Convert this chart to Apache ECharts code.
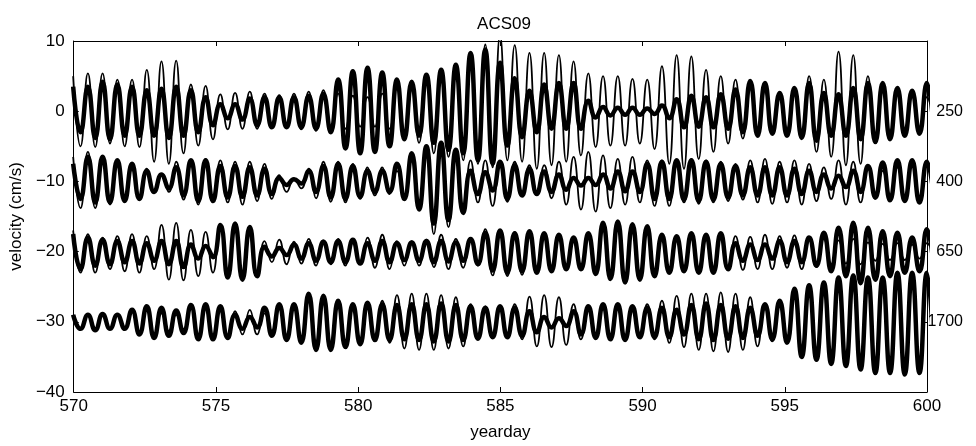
<!DOCTYPE html>
<html>
<head>
<meta charset="utf-8">
<script src="https://cdn.jsdelivr.net/npm/echarts@6/dist/echarts.min.js"></script>
<style>html,body{margin:0;padding:0;background:#fff;}#chart{width:976px;height:446px;}</style>
</head>
<body>
<div id="chart"></div>
<script>
// sample times (yearday) at successive tidal extremes
const yeardays = [
569.980,570.239,570.498,570.756,571.015,571.274,571.533,571.791,572.050,572.309,
572.568,572.826,573.085,573.344,573.603,573.861,574.120,574.379,574.638,574.896,
575.155,575.414,575.673,575.931,576.190,576.449,576.708,576.966,577.225,577.484,
577.743,578.001,578.260,578.519,578.778,579.036,579.295,579.554,579.813,580.071,
580.330,580.589,580.848,581.106,581.365,581.624,581.883,582.141,582.400,582.659,
582.918,583.176,583.435,583.694,583.953,584.211,584.470,584.729,584.988,585.246,
585.505,585.764,586.023,586.281,586.540,586.799,587.058,587.316,587.575,587.834,
588.093,588.351,588.610,588.869,589.128,589.386,589.645,589.904,590.163,590.421,
590.680,590.939,591.198,591.456,591.715,591.974,592.233,592.491,592.750,593.009,
593.268,593.526,593.785,594.044,594.303,594.561,594.820,595.079,595.338,595.596,
595.855,596.114,596.373,596.631,596.890,597.149,597.408,597.666,597.925,598.184,
598.443,598.701,598.960,599.219,599.478,599.736,599.995,600.254];

// velocities (cm/s), offset per depth
const v250thin = [
5.0,-5.0,5.4,-5.1,5.4,-4.6,4.5,-5.0,4.5,-5.1,5.9,-7.2,7.1,-7.5,7.2,-6.0,3.8,-4.9,3.6,-4.0,
2.4,-2.6,2.6,-2.5,2.8,-2.5,2.5,-2.3,2.3,-2.4,2.5,-2.6,2.8,-2.8,3.0,-3.0,2.5,-2.5,2.2,-2.2,
2.0,-2.2,2.5,-2.5,3.5,-3.0,4.0,-4.5,5.0,-6.0,6.0,-6.5,6.5,-7.0,8.0,-7.5,9.5,-8.0,10.8,-7.0,
9.4,-7.2,8.3,-8.2,8.3,-7.7,8.0,-7.2,7.1,-6.3,5.4,-5.1,5.0,-4.9,5.0,-4.9,4.6,-4.6,4.5,-5.4,
6.4,-7.5,8.0,-8.2,7.8,-6.8,5.9,-5.8,5.0,-4.6,4.5,-3.9,3.6,-3.5,2.9,-3.0,2.2,-2.5,3.3,-3.5,
5.0,-5.8,4.5,-6.5,8.5,-7.7,8.0,-7.5,5.0,-4.5,3.0,-3.0,2.5,-2.5,2.5,-2.5,2.0,-2.0];
const v250thick = [
3.5,-3.0,3.5,-3.8,4.2,-4.0,3.8,-3.5,3.5,-3.5,3.0,-3.5,3.2,-3.8,3.5,-3.5,3.0,-3.0,2.0,-2.0,
1.0,-1.0,1.0,-1.2,1.8,-2.0,2.0,-2.3,2.0,-2.3,2.0,-2.3,2.2,-2.5,2.5,-3.0,4.5,-5.3,5.7,-6.0,
6.2,-5.8,5.5,-5.0,4.5,-4.0,4.2,-3.5,5.2,-4.5,5.9,-5.5,6.6,-6.0,8.3,-7.0,8.8,-7.5,6.9,-4.9,
4.7,-3.7,2.9,-3.0,3.8,-2.5,4.0,-2.5,4.0,-2.5,1.5,-0.9,0.6,-0.6,0.5,-0.5,0.5,-0.5,0.4,-0.4,
0.8,-1.0,1.7,-2.3,2.2,-2.2,2.0,-2.3,2.4,-2.5,3.1,-3.0,4.3,-3.5,4.0,-3.2,2.6,-3.5,3.3,-3.8,
4.0,-4.2,2.6,-3.5,2.4,-3.5,3.3,-4.0,4.0,-4.4,4.0,-4.0,3.3,-3.5,2.9,-3.2,4.0,-3.5];
const v400thin = [
-6.5,-13.8,-5.8,-13.8,-7.0,-13.3,-7.2,-12.6,-8.2,-12.0,-8.2,-11.5,-9.1,-11.5,-7.2,-12.6,-7.0,-13.3,-6.8,-13.0,
-7.0,-13.0,-7.2,-13.3,-7.2,-12.8,-7.5,-12.5,-9.1,-11.5,-9.6,-11.0,-8.2,-12.4,-7.2,-12.9,-7.2,-13.0,-7.5,-12.5,
-8.0,-12.0,-8.0,-11.8,-8.5,-12.0,-6.0,-14.0,-5.5,-17.5,-5.5,-16.5,-6.5,-14.5,-7.0,-13.0,-7.0,-13.5,-7.7,-12.9,
-7.2,-11.9,-7.7,-11.5,-7.7,-12.4,-7.2,-13.3,-6.5,-14.0,-5.8,-14.3,-6.3,-13.8,-6.8,-13.3,-6.5,-13.0,-7.0,-13.5,
-7.0,-13.5,-7.0,-13.0,-6.8,-13.2,-7.0,-13.0,-7.2,-12.8,-7.5,-12.6,-7.0,-13.0,-6.8,-13.2,-7.2,-13.0,-7.0,-13.3,
-7.5,-12.8,-8.0,-12.5,-7.0,-13.3,-7.2,-13.0,-8.0,-12.5,-8.5,-12.0,-8.0,-12.3,-7.5,-12.5,-7.5,-12.5];
const v400thick = [
-7.5,-12.5,-6.5,-13.0,-6.5,-13.0,-7.0,-12.8,-7.5,-12.5,-8.5,-11.5,-9.0,-11.0,-8.0,-12.0,-7.0,-12.8,-7.0,-12.8,
-7.8,-12.3,-7.8,-12.2,-8.0,-12.0,-8.2,-11.8,-9.5,-10.5,-9.7,-10.3,-8.5,-11.5,-7.8,-12.3,-7.5,-12.5,-7.8,-12.2,
-8.5,-11.5,-8.5,-11.5,-7.5,-12.5,-6.0,-14.0,-5.0,-16.0,-4.5,-15.5,-5.5,-14.5,-8.5,-11.8,-8.7,-11.3,-7.2,-12.5,
-7.7,-12.0,-8.2,-11.8,-8.6,-11.5,-9.0,-11.2,-9.5,-10.6,-9.5,-10.5,-9.0,-11.0,-8.6,-11.4,-8.6,-11.5,-7.5,-12.5,
-7.2,-12.5,-7.0,-12.6,-7.0,-12.8,-7.2,-12.6,-7.5,-12.3,-7.8,-12.0,-8.0,-12.0,-8.0,-12.0,-8.0,-12.0,-8.2,-11.8,
-8.5,-11.5,-9.0,-11.0,-9.2,-10.8,-8.5,-11.5,-7.8,-12.3,-7.3,-12.7,-7.0,-12.8,-7.0,-13.0,-7.2,-12.8];
const v650thin = [
-17.0,-23.0,-17.5,-23.0,-18.0,-22.5,-17.8,-22.8,-17.5,-23.0,-17.8,-22.5,-16.2,-24.0,-15.9,-24.1,-16.9,-23.5,-17.2,-23.0,
-16.5,-23.5,-16.5,-23.7,-16.8,-23.2,-18.5,-21.5,-18.3,-21.8,-18.6,-21.7,-18.2,-22.0,-18.4,-21.8,-18.2,-22.0,-18.5,-21.8,
-18.0,-22.3,-17.6,-22.5,-18.5,-22.0,-18.5,-22.0,-18.3,-22.2,-17.6,-22.5,-18.2,-22.3,-18.5,-22.0,-16.8,-23.4,-17.5,-23.5,
-17.2,-23.3,-17.6,-22.7,-17.8,-22.5,-18.0,-22.5,-18.2,-22.3,-17.6,-22.8,-16.5,-23.5,-16.3,-23.6,-16.8,-23.3,-17.0,-22.6,
-17.8,-22.5,-18.0,-22.3,-17.8,-22.8,-17.7,-22.6,-17.8,-22.5,-17.8,-22.6,-17.9,-22.5,-17.6,-22.5,-17.8,-22.3,-17.7,-22.5,
-18.0,-22.2,-18.2,-21.8,-18.4,-21.7,-18.2,-21.8,-18.7,-21.3,-18.9,-21.2,-18.8,-21.2,-19.0,-21.0,-18.8,-21.2];
const v650thick = [
-17.5,-22.5,-18.0,-22.0,-18.3,-21.8,-18.5,-21.5,-18.5,-21.7,-18.8,-21.3,-18.5,-21.8,-18.5,-22.2,-19.0,-21.0,-19.2,-20.8,
-16.2,-23.7,-16.0,-24.0,-16.5,-23.5,-19.3,-20.7,-19.5,-20.5,-19.0,-21.0,-18.8,-21.3,-18.6,-21.5,-18.5,-21.5,-18.3,-21.7,
-18.8,-21.3,-18.5,-21.5,-18.8,-21.2,-18.7,-21.3,-18.5,-21.5,-18.5,-21.4,-18.7,-21.3,-18.2,-21.8,-17.3,-22.7,-17.0,-23.0,
-17.4,-22.8,-17.1,-23.0,-17.4,-22.8,-17.6,-22.5,-18.0,-22.5,-17.4,-23.2,-15.9,-23.9,-15.7,-24.4,-16.1,-24.0,-16.4,-23.5,
-17.6,-23.0,-17.8,-22.8,-17.4,-23.0,-17.6,-23.0,-17.4,-22.5,-18.8,-21.3,-19.0,-21.2,-19.0,-21.0,-18.5,-21.5,-18.5,-21.5,
-18.0,-22.0,-17.3,-22.8,-16.6,-23.5,-15.9,-24.5,-16.6,-24.0,-17.1,-23.5,-17.3,-23.0,-18.0,-22.8,-16.8,-23.0];
const v1700thin = [
-29.0,-31.0,-29.2,-30.9,-29.0,-31.0,-29.0,-31.0,-28.5,-31.5,-28.3,-31.8,-28.8,-31.3,-29.0,-31.0,-28.0,-32.0,-28.0,-32.0,
-28.0,-32.0,-28.5,-31.8,-28.3,-31.8,-28.8,-31.3,-28.0,-32.0,-28.0,-32.3,-27.0,-33.0,-27.0,-33.0,-27.5,-32.8,-28.0,-32.5,
-27.5,-32.5,-27.0,-33.0,-26.2,-33.8,-26.0,-34.0,-26.0,-34.0,-26.2,-33.8,-26.5,-33.5,-27.5,-32.5,-27.8,-32.3,-27.8,-32.2,
-27.5,-32.5,-26.4,-33.5,-26.2,-33.6,-26.5,-33.3,-27.5,-32.5,-28.0,-32.0,-28.0,-32.2,-28.2,-32.0,-28.0,-32.0,-27.5,-32.5,
-27.0,-33.0,-26.3,-33.6,-26.0,-34.0,-26.0,-34.2,-25.8,-34.3,-26.0,-34.0,-26.5,-33.5,-27.5,-32.8,-27.5,-32.5,-26.0,-34.5,
-25.5,-35.0,-25.0,-35.5,-24.5,-36.0,-24.0,-36.5,-24.0,-36.8,-24.0,-37.0,-23.5,-37.0,-23.5,-37.0,-23.5,-36.0];
const v1700thick = [
-29.0,-31.0,-29.0,-31.2,-28.9,-31.0,-29.0,-31.0,-28.3,-31.8,-27.8,-32.3,-28.0,-32.0,-28.4,-31.6,-27.6,-32.5,-27.5,-32.5,
-27.8,-32.3,-29.0,-31.0,-29.3,-30.8,-28.0,-32.0,-27.5,-32.6,-27.5,-33.0,-26.0,-34.0,-26.3,-34.0,-27.0,-33.6,-27.5,-33.2,
-27.3,-32.6,-27.5,-32.6,-27.6,-32.5,-27.5,-32.6,-27.5,-32.8,-27.4,-32.8,-27.6,-32.6,-27.8,-32.4,-28.0,-32.2,-27.8,-32.2,
-28.0,-32.0,-28.5,-31.5,-29.3,-30.8,-29.5,-30.6,-28.5,-31.8,-27.8,-32.3,-27.5,-32.5,-27.5,-32.6,-27.8,-32.2,-28.0,-32.2,
-28.0,-32.2,-28.3,-31.8,-27.6,-32.5,-27.4,-32.6,-27.6,-32.4,-27.8,-32.3,-28.0,-32.0,-27.5,-32.5,-27.0,-33.0,-25.3,-35.0,
-24.8,-35.4,-24.4,-36.0,-23.7,-36.3,-23.4,-36.8,-23.7,-37.3,-23.7,-37.3,-23.0,-37.5,-23.0,-37.3,-23.0,-36.0];

const depthOffsets = [0, -10, -20, -30];
const depthLabels = ['250', '400', '650', '1700'];
const xTicks = [570, 575, 580, 585, 590, 595, 600];
const yTicks = [-40, -30, -20, -10, 0, 10];

const FONT = 'Liberation Sans, Arial, Helvetica, sans-serif';
const FS = 17;
const pairs = vals => yeardays.map((t, i) => [t, vals[i]]);
const mk = (name, vals, w) => ({
  name, type: 'line', data: pairs(vals), showSymbol: false, smooth: 0.5,
  lineStyle: { color: '#000', width: w }, clip: true, animation: false, z: 2
});
const minus = v => String(v).replace('-', '\u2212');

const chart = echarts.init(document.getElementById('chart'), null, { renderer: 'canvas' });
const tickStyle = { inside: true, length: 5, lineStyle: { color: '#000', width: 1 } };
chart.setOption({
  animation: false,
  backgroundColor: '#fff',
  title: {
    text: 'ACS09', left: 499, top: 11, textAlign: 'center',
    textStyle: { fontFamily: FONT, fontSize: FS, fontWeight: 'normal', color: '#000' }
  },
  grid: { left: 72, right: 49, top: 41, bottom: 49 },
  xAxis: [
    { type: 'value', min: xTicks[0], max: xTicks[xTicks.length - 1], interval: 5, position: 'bottom',
      name: 'yearday', nameLocation: 'middle', nameGap: 32,
      nameTextStyle: { fontFamily: FONT, fontSize: FS, color: '#000' },
      axisLine: { show: true, onZero: false, lineStyle: { color: '#000', width: 1 } },
      axisTick: tickStyle,
      axisLabel: { fontFamily: FONT, fontSize: FS, color: '#000', margin: 6 },
      splitLine: { show: false } },
    { type: 'value', min: xTicks[0], max: xTicks[xTicks.length - 1], interval: 5, position: 'top',
      axisLine: { show: true, onZero: false, lineStyle: { color: '#000', width: 1 } },
      axisTick: tickStyle, axisLabel: { show: false }, splitLine: { show: false } }
  ],
  yAxis: [
    { type: 'value', min: yTicks[0], max: yTicks[yTicks.length - 1], interval: 10, position: 'left',
      name: 'velocity (cm/s)', nameLocation: 'middle', nameGap: 46,
      nameTextStyle: { fontFamily: FONT, fontSize: FS, color: '#000' },
      axisLine: { show: true, onZero: false, lineStyle: { color: '#000', width: 1 } },
      axisTick: tickStyle,
      axisLabel: { fontFamily: FONT, fontSize: FS, color: '#000', margin: 9, formatter: minus },
      splitLine: { show: false } },
    { type: 'value', min: yTicks[0], max: yTicks[yTicks.length - 1], interval: 10, position: 'right',
      axisLine: { show: true, onZero: false, lineStyle: { color: '#000', width: 1 } },
      axisTick: tickStyle,
      axisLabel: { fontFamily: FONT, fontSize: 16, color: '#000', margin: 36, align: 'right',
        formatter: v => { const k = depthOffsets.indexOf(v); return k >= 0 ? depthLabels[k] : ''; } },
      splitLine: { show: false } }
  ],
  series: [
    mk('250 m a', v250thick, 4.5), mk('250 m b', v250thin, 1.8),
    mk('400 m a', v400thick, 4.5), mk('400 m b', v400thin, 1.8),
    mk('650 m a', v650thick, 4.5), mk('650 m b', v650thin, 1.8),
    mk('1700 m a', v1700thick, 4.5), mk('1700 m b', v1700thin, 1.8)
  ]
});
</script>
</body>
</html>
